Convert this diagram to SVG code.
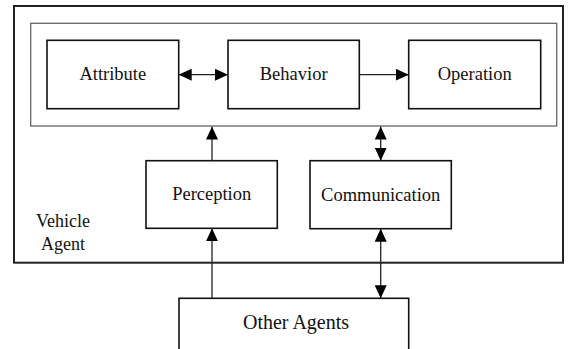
<svg xmlns="http://www.w3.org/2000/svg" width="568" height="349" viewBox="0 0 568 349">
<style>
text{font-size:18.5px;fill:#111;text-anchor:middle}
.box{fill:#fff;stroke:#111;stroke-width:1.6}
.line{stroke:#222;stroke-width:1.3;fill:none}
</style>
<defs>
<marker id="ah" markerWidth="13" markerHeight="12" refX="13" refY="6" orient="auto" markerUnits="userSpaceOnUse">
<path d="M0,0 L13,6 L0,12 Z" fill="#000"/>
</marker>
<marker id="as" markerWidth="13" markerHeight="12" refX="0" refY="6" orient="auto" markerUnits="userSpaceOnUse">
<path d="M13,0 L0,6 L13,12 Z" fill="#000"/>
</marker>
</defs>
<rect width="568" height="349" fill="#fff"/>
<g font-family="'Liberation Serif', 'Times New Roman', 'DejaVu Serif', serif">
<g id="vehicle-agent">
<rect x="14" y="6" width="549" height="256.7" fill="none" stroke="#222" stroke-width="2"/>
<text x="63" y="227" style="font-size:18px">Vehicle</text>
<text x="63" y="249.5" style="font-size:18px">Agent</text>
</g>
<g id="core">
<rect x="30.7" y="23.3" width="526" height="102.7" fill="none" stroke="#666" stroke-width="1.3"/>
</g>
<g id="attribute"><rect class="box" x="47" y="40.3" width="131.7" height="68.4"/><text x="112.8" y="80">Attribute</text></g>
<g id="behavior"><rect class="box" x="228" y="40.3" width="131.3" height="68.4"/><text x="293.7" y="80">Behavior</text></g>
<g id="operation"><rect class="box" x="408.7" y="40.3" width="132" height="68.4"/><text x="474.7" y="80">Operation</text></g>
<g id="perception"><rect class="box" x="146" y="160.7" width="131.3" height="67.6"/><text x="211.7" y="200">Perception</text></g>
<g id="communication"><rect class="box" x="310" y="160.7" width="141.3" height="68"/><text x="380.7" y="201">Communication</text></g>
<g id="other-agents"><rect class="box" x="179" y="298.3" width="229.7" height="54"/><text x="296" y="328.5" style="font-size:20px">Other Agents</text></g>
</g>
<g id="connectors">
<line class="line" x1="178.7" y1="74.7" x2="228" y2="74.7" marker-start="url(#as)" marker-end="url(#ah)"/>
<line class="line" x1="359.3" y1="74.7" x2="408.7" y2="74.7" marker-end="url(#ah)"/>
<line class="line" x1="212" y1="160.7" x2="212" y2="126.6" marker-end="url(#ah)"/>
<line class="line" x1="380.7" y1="126.6" x2="380.7" y2="160.7" marker-start="url(#as)" marker-end="url(#ah)"/>
<line class="line" x1="212" y1="298.3" x2="212" y2="228.3" marker-end="url(#ah)"/>
<line class="line" x1="380.7" y1="228.7" x2="380.7" y2="298.3" marker-start="url(#as)" marker-end="url(#ah)"/>
</g>
</svg>
